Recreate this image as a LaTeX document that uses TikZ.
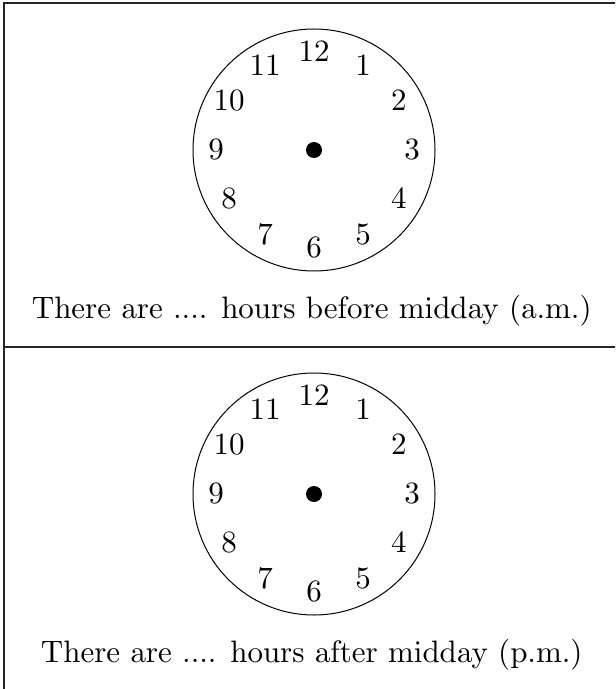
\documentclass[tikz,border=0pt]{standalone}
\usetikzlibrary{calc}
\font\clockfont=cmr10 at 15.5pt
\tikzset{
  frame/.style={line width=0.8pt, draw=black!85},
  dial/.style={line width=0.5pt},
  num/.style={font=\clockfont, inner sep=0pt},
  caption/.style={font=\clockfont, inner sep=0pt, anchor=base},
  hub/.style={circle, fill=black, minimum size=8pt, inner sep=0pt}
}
\begin{document}
\begin{tikzpicture}[x=0.5pt,y=-0.5pt]
\useasboundingbox (0,0) rectangle (615,689);
\clip (0,0) rectangle (615,689);
% frame (right and bottom edges fall outside the picture)
\coordinate (tl) at (4,3);
\coordinate (bl) at (4,700);
\coordinate (tr) at (630,3);
\coordinate (ml) at (4,347);
\coordinate (mr) at (630,347);
\draw[frame] (bl) -- (tl) -- (tr);
\draw[frame] (ml) -- (mr);
% clocks
\foreach \i/\cy/\ty/\txt in {1/150/318/{There are .... hours before midday (a.m.)},
                              2/494/662/{There are .... hours after midday (p.m.)}}{
  \coordinate (c\i) at (314,\cy);
  \draw[dial] (c\i) circle[radius=60.5pt];
  \node[hub] (h\i) at (c\i) {};
  \foreach \h in {1,...,12}{
    \node[num] (n\i-\h) at ([shift={(90-30*\h:49pt)}]c\i) {\h};
  }
  \node[caption] (t\i) at (312,\ty) {\txt};
}
\end{tikzpicture}
\end{document}
